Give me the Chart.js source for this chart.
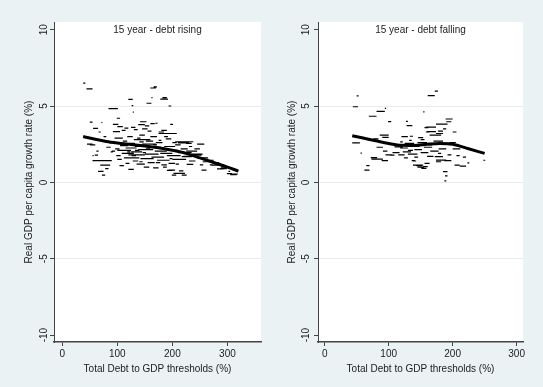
<!DOCTYPE html>
<html>
<head>
<meta charset="utf-8">
<script src="https://cdn.jsdelivr.net/npm/chart.js@4.4.1/dist/chart.umd.min.js"></script>
<style>
  html, body { margin: 0; padding: 0; background: #EAF2F3; }
  #wrap { position: relative; width: 543px; height: 387px; overflow: hidden; }
  canvas { position: absolute; top: 0; }
</style>
</head>
<body>
<div id="wrap">
  <canvas id="risingChart" width="271" height="387" style="left:0"></canvas>
  <canvas id="fallingChart" width="272" height="387" style="left:271px"></canvas>
</div>
<script>
// tick labels
const yTickValues = [-10, -5, 0, 5, 10];
const xTickValues = [0, 100, 200, 300];
const gridValues = [-5, 0, 5];

const panelTitles = ["15 year - debt rising", "15 year - debt falling"];
const xAxisTitle = "Total Debt to GDP thresholds (%)";
const yAxisTitle = "Real GDP per capita growth rate (%)";

// short horizontal dashes: [debt from, debt to, growth]
const risingDashes = [
  [38,42,6.5],[44,55,6.12],[120,128,5.43],[126,129,5.02],[128,130,4.6],[160,170,6.18],[166,172,6.25],
  [162,164,5.55],[153,162,5.18],[178,192,5.45],[182,190,5.55],[193,198,5.0],[84,101,4.83],[99,105,4.2],
  [50,55,3.95],[71,73,3.92],[92,102,3.8],[100,110,3.65],[141,153,3.97],[138,150,3.78],[56,65,3.54],
  [92,105,3.32],[169,173,3.87],[180,190,3.4],[196,201,3.8],[175,208,3.2],[205,238,2.66],[210,230,2.58],
  [45,55,2.5],[50,60,2.45],[59,65,1.79],[55,57,1.75],[55,90,1.42],[69,87,1.13],[65,75,0.72],[72,78,0.48],
  [78,84,0.9],[62,66,2.05],[80,88,2.3],[85,95,2.6],[75,80,3.0],[66,70,3.3],[88,92,2.0],
  [95,110,2.9],[100,125,2.1],[105,120,2.4],[108,130,1.9],[110,118,2.7],[112,140,1.6],[115,135,2.25],
  [118,128,3.0],[120,150,1.8],[122,132,2.55],[125,145,2.0],[128,138,1.4],[130,160,2.8],[132,148,2.35],
  [135,150,1.2],[138,165,2.15],[140,150,3.1],[142,160,1.55],[145,170,2.5],[148,158,1.0],[150,175,1.85],
  [152,165,2.7],[155,168,1.3],[158,180,2.3],[160,172,3.0],[162,185,1.65],[165,175,0.95],[168,190,2.05],
  [170,182,2.6],[172,195,1.45],[175,185,3.3],[178,200,1.9],[180,190,1.15],[185,205,2.35],[188,198,2.85],
  [190,215,1.75],[195,210,2.1],[200,225,1.5],[205,215,2.45],[210,235,1.95],[215,228,2.2],[220,240,1.7],
  [225,245,2.05],[230,242,1.4],[235,255,1.85],[240,250,2.2],[250,265,1.6],[255,270,1.35],[217,235,1.68],
  [238,253,1.79],[193,205,1.25],[226,238,1.18],[253,262,0.8],[193,205,0.8],[202,223,0.59],[271,287,1.13],
  [281,293,0.88],[299,308,0.57],[308,319,0.55],[302,305,0.72],[275,285,1.3],[288,300,1.0],[262,275,1.45],
  [245,258,2.5],[225,235,2.55],[100,108,1.5],[104,112,1.1],[115,122,1.25],[120,130,0.85],[96,104,2.2],
  [98,106,1.75],[90,96,2.05],[108,115,3.4],[113,120,3.55],[125,133,3.6],[130,137,3.45],[145,155,3.5],
  [150,158,3.7],[155,162,3.35],[160,168,3.85],[136,142,2.9],[140,148,2.65],[165,172,2.45],[126,134,1.75],
  [132,140,2.1],[118,124,2.0],[146,152,1.95],[152,160,2.2],[170,178,1.3],[183,190,1.0],[160,166,1.55],
  [200,208,2.6],[206,212,1.2],[212,220,0.75],[185,192,3.0],[230,236,2.35],[140,146,1.35],[128,133,2.45],
  [175,180,2.75],[195,200,1.55],[199,207,0.48],[217,226,0.48],[190,200,0.78],[287,299,0.9],[268,274,1.15],
  [250,256,1.15],[305,317,0.5]
];

const fallingDashes = [
  [50,53,5.66],[44,52,4.95],[69,81,4.33],[81,94,4.65],[94,96,4.85],[99,104,3.98],[86,100,3.1],[90,100,2.95],
  [76,84,2.85],[43,55,2.58],[56,58,1.92],[65,70,1.1],[62,70,0.8],[72,82,1.62],[73,91,1.52],[89,99,1.43],
  [95,105,1.8],[81,91,2.3],[91,98,2.05],[106,117,1.95],[102,109,1.79],[109,122,2.33],[115,125,1.8],
  [122,135,2.0],[128,137,3.72],[127,130,4.0],[133,138,3.02],[146,154,2.93],[120,130,3.0],[138,143,1.4],
  [143,152,1.1],[151,159,0.92],[154,156,4.62],[156,164,1.25],[138,151,1.13],[145,155,1.0],[158,164,3.3],
  [156,162,3.58],[158,174,3.62],[160,174,3.32],[164,182,3.1],[177,185,3.36],[161,172,5.68],[172,177,5.97],
  [174,185,3.2],[174,192,3.82],[185,190,3.5],[189,200,4.15],[190,198,3.97],[200,206,3.3],[187,198,1.42],
  [174,190,1.46],[172,185,1.68],[185,192,0.7],[188,192,0.42],[187,190,0.1],[203,211,1.13],[206,211,1.75],
  [211,221,1.07],[216,221,1.65],[223,226,1.28],[248,251,1.45],[177,182,1.9],[192,198,1.8],[136,141,1.43],
  [148,154,1.13],[154,161,1.03],[174,182,1.35],[130,138,2.1],[112,124,2.45],[118,130,2.25],[125,140,2.55],
  [130,145,1.85],[135,148,2.35],[140,152,2.15],[145,160,2.6],[150,162,1.95],[155,168,2.3],[160,170,1.7],
  [165,178,2.05],[170,185,2.7],[178,190,2.2],[185,195,2.55],[195,205,2.6],[200,212,2.2],[124,130,1.6],
  [140,146,1.65],[150,156,2.8],[162,168,2.45],[118,122,2.65],[132,136,2.75]
];

// smoothed fit lines
const risingFitX = [38, 60, 80, 100, 125, 150, 175, 200, 225, 250, 275, 300, 320];
const risingFitY = [3.0, 2.82, 2.68, 2.58, 2.48, 2.38, 2.27, 2.1, 1.9, 1.6, 1.3, 1.0, 0.74];
const fallingFitX = [43, 60, 80, 100, 120, 140, 160, 180, 200, 225, 250];
const fallingFitY = [3.05, 2.9, 2.72, 2.55, 2.43, 2.42, 2.5, 2.55, 2.5, 2.2, 1.9];

Chart.defaults.font.family = '"Liberation Sans", Arial, sans-serif';
Chart.defaults.font.size = 10;
Chart.defaults.color = "#222";

const plotBackground = {
  id: "plotBackground",
  beforeDraw(chart) {
    const a = chart.chartArea;
    const ctx = chart.ctx;
    ctx.save();
    ctx.fillStyle = "#ffffff";
    ctx.fillRect(a.left, a.top, a.right - a.left, a.bottom - a.top);
    ctx.restore();
  }
};

const panelTitle = {
  id: "panelTitle",
  afterDraw(chart, args, opts) {
    const a = chart.chartArea;
    const ctx = chart.ctx;
    ctx.save();
    ctx.font = '10px "Liberation Sans", Arial, sans-serif';
    ctx.fillStyle = "#222";
    ctx.textAlign = "center";
    ctx.textBaseline = "middle";
    ctx.fillText(opts.text, (a.left + a.right) / 2, 30);
    ctx.restore();
  }
};

function dashPoints(dashes) {
  const pts = [];
  dashes.forEach(d => {
    pts.push({ x: d[0], y: d[2] });
    pts.push({ x: d[1], y: d[2] });
    pts.push({ x: d[1], y: null });
  });
  return pts;
}

function makePanel(canvasId, dashes, fitX, fitY, title, cfg) {
  const ctx = document.getElementById(canvasId).getContext("2d");
  return new Chart(ctx, {
    type: "scatter",
    data: {
      datasets: [
        {
          label: "fit",
          data: fitX.map((x, i) => ({ x: x, y: fitY[i] })),
          showLine: true,
          borderColor: "#000",
          borderWidth: 3,
          pointRadius: 0,
          cubicInterpolationMode: "monotone"
        },
        {
          label: "dashes",
          data: dashPoints(dashes),
          showLine: true,
          spanGaps: false,
          borderColor: "#000",
          borderWidth: 1.2,
          pointRadius: 0
        }
      ]
    },
    plugins: [plotBackground, panelTitle],
    options: {
      responsive: false,
      animation: false,
      layout: { padding: { top: 22, right: cfg.rightPad, bottom: 0, left: 0 } },
      plugins: {
        legend: { display: false },
        tooltip: { enabled: false },
        panelTitle: { text: title }
      },
      scales: {
        x: {
          type: "linear",
          min: cfg.xMin,
          max: cfg.xMax,
          afterBuildTicks: s => { s.ticks = xTickValues.map(v => ({ value: v })); },
          afterFit: s => { s.height = 45; },
          border: { color: "#444", width: 1.5 },
          grid: { color: "rgba(0,0,0,0)", tickColor: "#444", tickLength: 4 },
          ticks: { padding: 2, callback: v => String(v) },
          title: { display: true, text: xAxisTitle, padding: { top: 0, bottom: 12 } }
        },
        y: {
          type: "linear",
          min: -10.45,
          max: 10.5,
          afterBuildTicks: s => { s.ticks = yTickValues.map(v => ({ value: v })); },
          afterFit: s => { s.width = cfg.yWidth; },
          border: { color: "#444", width: 1 },
          grid: {
            color: c => (c.tick && gridValues.includes(c.tick.value)) ? "#E3ECEE" : "rgba(0,0,0,0)",
            tickColor: "#444",
            tickLength: 4
          },
          ticks: { padding: cfg.yTickPad, minRotation: 90, maxRotation: 90, crossAlign: "center", callback: v => String(v) },
          title: { display: true, text: yAxisTitle, padding: { top: cfg.yTitlePad, bottom: 0 } }
        }
      }
    }
  });
}

makePanel("risingChart", risingDashes, risingFitX, risingFitY, panelTitles[0],
  { xMin: -15, xMax: 361, rightPad: 10, yWidth: 54, yTitlePad: 23, yTickPad: -1 });
makePanel("fallingChart", fallingDashes, fallingFitX, fallingFitY, panelTitles[1],
  { xMin: -10.5, xMax: 310, rightPad: 20, yWidth: 47, yTitlePad: 15, yTickPad: 1 });
</script>
</body>
</html>
